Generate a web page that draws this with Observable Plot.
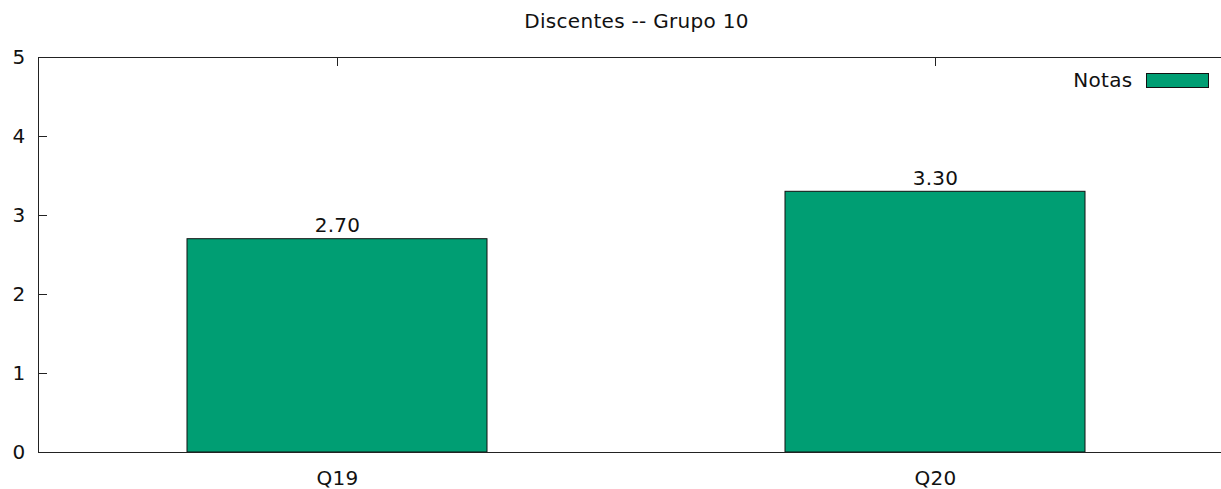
<!DOCTYPE html>
<html><head><meta charset="utf-8">
<script src="https://cdn.jsdelivr.net/npm/d3@7"></script>
<script src="https://cdn.jsdelivr.net/npm/@observablehq/plot@0.6"></script>
<style>html,body{margin:0;padding:0;background:#fff;overflow:hidden}</style>
</head><body><div id="chart"></div>
<script>
const title = "Discentes -- Grupo 10";
const seriesName = "Notas";
const categories = ["Q19", "Q20"];
const values = [2.70, 3.30];
const yTicks = [0, 1, 2, 3, 4, 5];
const yInnerTicks = [1, 2, 3, 4];
const barColor = "#009e73";

const data = categories.map((q, i) => ({q, v: values[i]}));
const W = 1221, H = 489, mL = 38, mR = -13, mT = 57, mB = 37;
const fw = W - mL - mR, fh = H - mT - mB;
const FS = 20;

const chart = Plot.plot({
  width: W, height: H,
  marginLeft: mL, marginRight: mR, marginTop: mT, marginBottom: mB,
  style: {fontFamily: "DejaVu Sans", fontSize: FS + "px", color: "#111", background: "#fff", letterSpacing: "0.3px"},
  x: {domain: categories, padding: 0, label: null},
  y: {domain: [0, 5], label: null},
  marks: [
    Plot.barY(data, {x: "q", y: "v", fill: barColor, stroke: "#111", strokeWidth: 1, insetLeft: 149, insetRight: 149}),
    Plot.ruleY(yInnerTicks, {stroke: "#222", insetRight: fw - 9}),
    Plot.ruleX(categories, {stroke: "#222", insetBottom: fh - 9}),
    Plot.frame({stroke: "#222"}),
    Plot.axisY(yTicks, {tickSize: 0, tickPadding: 13, fontSize: FS, tickFormat: "d", label: null}),
    Plot.axisX({tickSize: 0, tickPadding: 18, fontSize: FS, label: null}),
    Plot.text(data, {x: "q", y: "v", text: d => d3.format(".2f")(d.v), lineAnchor: "bottom", dy: -7, fontSize: FS}),
    Plot.text([title], {frameAnchor: "top", dy: -30, lineAnchor: "bottom", fontSize: FS}),
    Plot.text([seriesName], {frameAnchor: "top-right", dx: -102, dy: 23, textAnchor: "end", lineAnchor: "middle", fontSize: FS}),
    Plot.frame({fill: barColor, stroke: "#111", insetLeft: 1108, insetRight: 26, insetTop: 16, insetBottom: fh - 30})
  ]
});
document.getElementById("chart").appendChild(chart);
</script>
</body></html>
